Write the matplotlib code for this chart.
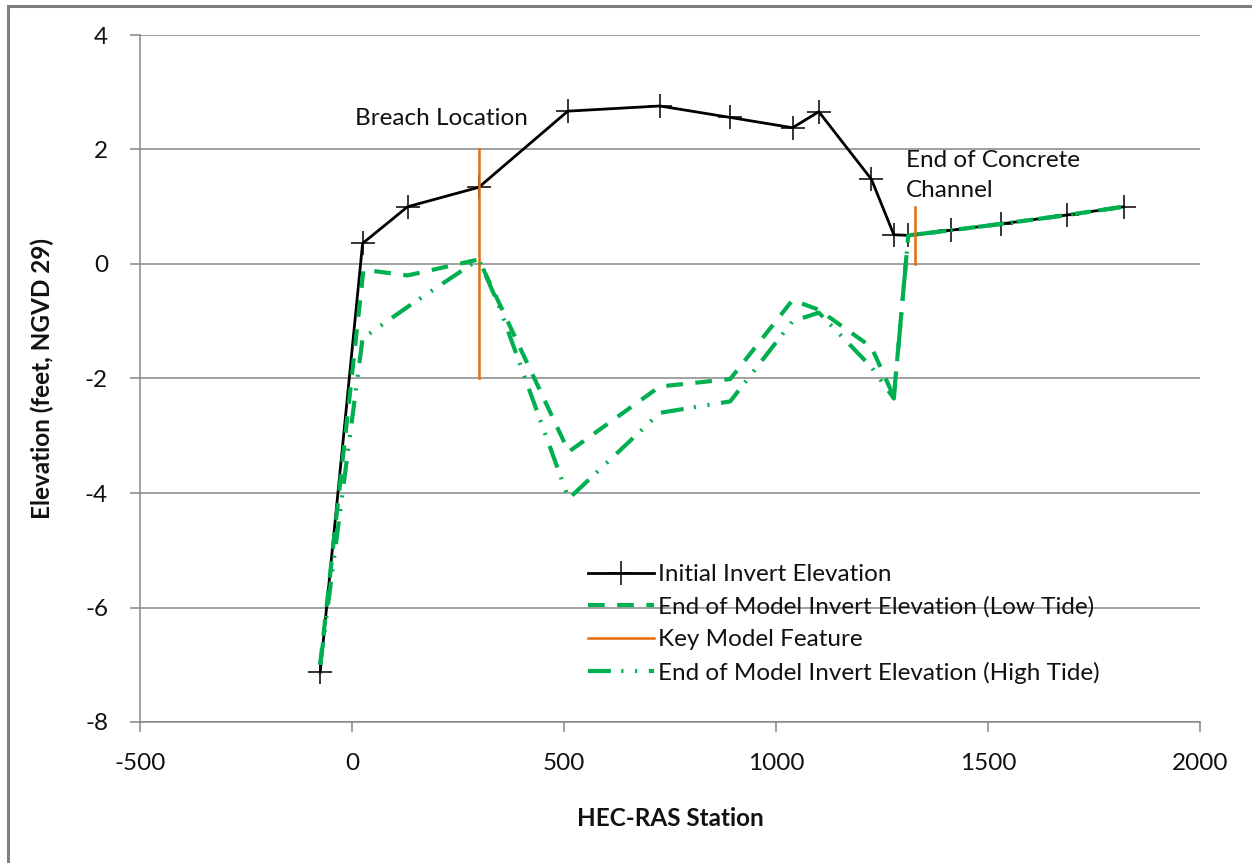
import matplotlib.pyplot as plt
from matplotlib.patches import Rectangle
import numpy as np

plt.rcParams['font.family'] = ['Lato', 'DejaVu Sans']
plt.rcParams['axes.unicode_minus'] = False

# Initial invert elevation
init_x = [-75, 25, 131, 299, 509, 726, 892, 1039, 1101, 1225, 1278, 1312, 1413, 1531, 1686, 1820]
init_y = [-7.13, 0.36, 1.0, 1.34, 2.67, 2.76, 2.56, 2.38, 2.66, 1.48, 0.51, 0.5, 0.59, 0.70, 0.855, 1.0]

# End of model invert elevation (low tide)
low_x = [-75, 27, 131, 299, 345, 511, 726, 892, 1039, 1101, 1225, 1278, 1312, 1413, 1531, 1686, 1820]
low_y = [-7.0, -0.1, -0.2, 0.08, -0.65, -3.28, -2.14, -2.01, -0.63, -0.8, -1.45, -2.32, 0.5, 0.59, 0.70, 0.855, 1.0]

# End of model invert elevation (high tide)
high_x = [-75, 25, 131, 299, 345, 511, 726, 892, 1039, 1101, 1225, 1278, 1312, 1413, 1531, 1686, 1820]
high_y = [-7.0, -1.3, -0.75, 0.08, -0.7, -4.1, -2.6, -2.4, -1.0, -0.85, -1.8, -2.35, 0.5, 0.59, 0.70, 0.855, 1.0]

# Key model features (vertical markers)
key_x = [299, 299, np.nan, 1329, 1329]
key_y = [-2, 2, np.nan, 0, 1]

green = '#00B050'
orange = '#E46C0A'
grid_c = '#868686'
txt_c = '#111111'
fs = 17.5

fig = plt.figure(figsize=(12.52, 8.63), dpi=100)
fig.patches.append(Rectangle((8 / 1252, -0.1), 1.2, 1.1 - 6 / 863,
                             transform=fig.transFigure, fill=False,
                             edgecolor='#7f7f7f', linewidth=2.2))
ax = fig.add_axes([140 / 1252, 1 - 722 / 863, 1060 / 1252, 687 / 863])

ax.plot(init_x, init_y, color='black', lw=2.0, marker='+', ms=17, mew=1.1,
        label='Initial Invert Elevation', zorder=3)
ax.plot(low_x, low_y, color=green, lw=3, linestyle=(0, (4, 3)),
        label='End of Model Invert Elevation (Low Tide)', zorder=4)
ax.plot(key_x, key_y, color=orange, lw=1.8, label='Key Model Feature', zorder=4)
ax.plot(high_x, high_y, color=green, lw=3, linestyle=(0, (5.5, 2.5, 0.5, 2.8, 0.5, 2.8)),
        label='End of Model Invert Elevation (High Tide)', zorder=5)

ax.set_xlim(-500, 2000)
ax.set_ylim(-8, 4)
ax.set_xticks(np.arange(-500, 2001, 500))
ax.set_yticks(np.arange(-8, 5, 2))
ax.yaxis.grid(True, color=grid_c, lw=1.1)
ax.set_axisbelow(True)
for s in ['top', 'right']:
    ax.spines[s].set_visible(False)
for s in ['left', 'bottom']:
    ax.spines[s].set_color(grid_c)
    ax.spines[s].set_linewidth(1.1)
ax.tick_params(axis='both', direction='out', length=7, width=1.1, color=grid_c,
               labelsize=fs, labelcolor=txt_c)
ax.tick_params(axis='y', pad=16)
ax.tick_params(axis='x', pad=15)

ax.set_xlabel('HEC-RAS Station', fontsize=fs, fontweight='bold', labelpad=24, color=txt_c)
ax.set_ylabel('Elevation (feet, NGVD 29)', fontsize=fs, fontweight='bold', labelpad=22, color=txt_c)

ax.text(7, 2.55, 'Breach Location', fontsize=fs, va='center', ha='left', color=txt_c)
ax.text(1307, 1.54, 'End of Concrete\nChannel', fontsize=fs, va='center', ha='left',
        color=txt_c, linespacing=1.52)

leg = ax.legend(loc='upper left', bbox_to_anchor=(588 / 1252, 1 - 564 / 863),
                bbox_transform=fig.transFigure, frameon=False, fontsize=fs,
                handlelength=2.7, handletextpad=0.2, labelspacing=0.47,
                borderpad=0, borderaxespad=0)
for t in leg.get_texts():
    t.set_color(txt_c)

fig.savefig('out.png', dpi=100)
